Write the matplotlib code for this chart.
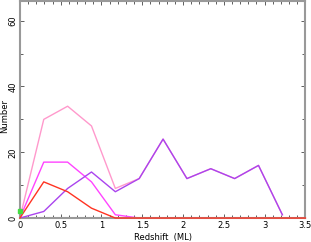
import matplotlib
matplotlib.use("Agg")
import matplotlib.pyplot as plt
from matplotlib.ticker import MultipleLocator

# redshift bin centres
z = [0.0, 0.2925, 0.585, 0.8775, 1.17, 1.4625, 1.755, 2.0475, 2.34, 2.6325, 2.925, 3.2175]
z_red = z + [3.5]

total = [0, 30, 34, 28, 9, 12, 24, 12, 15, 12, 16, 1]
purple = [0, 2, 9, 14, 8, 12, 24, 12, 15, 12, 16, 1]
magenta = [0, 17, 17, 11, 1, 0, 0, 0, 0, 0, 0, 0]
red = [0, 11, 8, 3, 0, 0, 0, 0, 0, 0, 0, 0, 0]

fig = plt.figure(figsize=(3.11, 2.42), dpi=100)
ax = fig.add_axes([0.064, 0.099, 0.918, 0.897])

ax.plot(z, total, color="#ff99cc", lw=1.0)
ax.plot(z, magenta, color="#ff44ff", lw=1.0, clip_on=False)
ax.plot(z_red, red, color="#ff3322", lw=1.0, clip_on=False, zorder=4)
ax.plot(z, purple, color="#aa44ee", lw=1.0, zorder=3)
ax.plot([0], [2], marker="s", ms=3, color="#44dd44", clip_on=False, zorder=5)

ax.set_xlim(0, 3.5)
ax.set_ylim(0, 66)
ax.xaxis.set_minor_locator(MultipleLocator(0.1))
ax.yaxis.set_minor_locator(MultipleLocator(10))
ax.set_xticks([0, 0.5, 1, 1.5, 2, 2.5, 3, 3.5])
ax.set_xticklabels(["0", "0.5", "1", "1.5", "2", "2.5", "3", "3.5"])
ax.set_yticks([0, 20, 40, 60])
ax.set_yticklabels(["0", "20", "40", "60"], rotation=90, va="center")

ax.tick_params(which="both", direction="in", top=True, right=True,
               labelsize=6, color="#444444", pad=2)
ax.tick_params(which="major", length=3, width=0.6)
ax.tick_params(which="minor", length=2, width=0.6)
for s in ax.spines.values():
    s.set_color("#999999")
    s.set_linewidth(1.5)

ax.set_xlabel("Redshift  (ML)", fontsize=6, labelpad=2)
ax.set_ylabel("Number", fontsize=6)
ax.yaxis.set_label_coords(-0.039, 0.47)

fig.savefig("out.png", dpi=100)
